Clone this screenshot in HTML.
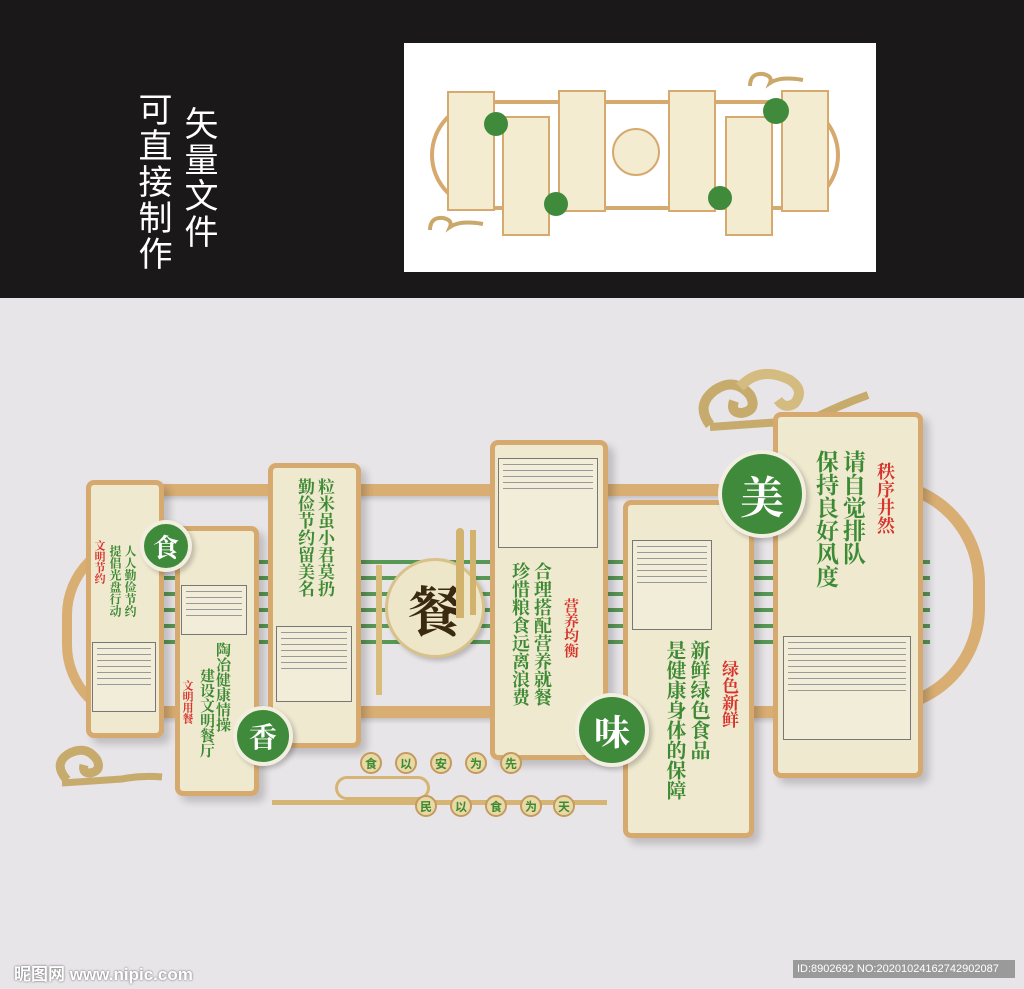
<!DOCTYPE html>
<html><head><meta charset="utf-8"><style>
*{margin:0;padding:0;box-sizing:border-box}
body{width:1024px;height:989px;position:relative;overflow:hidden;background:#e8e5e8;font-family:"Liberation Sans","Noto Sans CJK SC",sans-serif}
.a{position:absolute}
.top{left:0;top:0;width:1024px;height:298px;background:#1a1819}
.vt{writing-mode:vertical-rl;color:#fff;font-size:34px;line-height:36px;letter-spacing:2px}
.p{position:absolute;background:#efe9cf;border:5px solid #d6a96e;border-radius:8px;box-shadow:6px 6px 8px rgba(0,0,0,.18)}
.bar{position:absolute;background:#d9ae73;height:12px;box-shadow:0 3px 4px rgba(0,0,0,.15)}
.c{position:absolute;border-radius:50%;background:#3f8a3b;border:4px solid #f3efe0;color:#fff;font-family:"Noto Serif CJK SC",serif;display:flex;align-items:center;justify-content:center;font-weight:bold;box-shadow:3px 3px 5px rgba(0,0,0,.2)}
.g,.r{position:absolute;writing-mode:vertical-rl;font-weight:bold;font-family:"Noto Serif CJK SC",serif;line-height:1}
.g{color:#3d8a35}.r{color:#d7322b}
.box{position:absolute;border:1px solid #777;background:#f2edd8}
.box i{display:block;height:1px;background:#999;margin:5px 4px 0}
.s{position:absolute;width:22px;height:22px;border-radius:50%;background:#e9d9a5;border:2px solid #c49a5e;color:#3d8a35;font-size:12px;font-weight:bold;display:flex;align-items:center;justify-content:center}
</style></head><body>
<div class="a top"></div>
<div class="a vt" style="left:134px;top:92px">可直接制作</div>
<div class="a vt" style="left:180px;top:106px">矢量文件</div>
<div class="a" style="left:404px;top:43px;width:472px;height:229px;background:#fff"></div>
<div class="a" style="left:430px;top:100px;width:410px;height:110px;border:4px solid #d6a96e;border-radius:55px"></div>
<div class="a" style="left:447px;top:91px;width:48px;height:120px;background:#f3ecd0;border:2px solid #d6a96e"></div>
<div class="a" style="left:502px;top:116px;width:48px;height:120px;background:#f3ecd0;border:2px solid #d6a96e"></div>
<div class="a" style="left:558px;top:90px;width:48px;height:122px;background:#f3ecd0;border:2px solid #d6a96e"></div>
<div class="a" style="left:668px;top:90px;width:48px;height:122px;background:#f3ecd0;border:2px solid #d6a96e"></div>
<div class="a" style="left:725px;top:116px;width:48px;height:120px;background:#f3ecd0;border:2px solid #d6a96e"></div>
<div class="a" style="left:781px;top:90px;width:48px;height:122px;background:#f3ecd0;border:2px solid #d6a96e"></div>
<div class="a" style="left:612px;top:128px;width:48px;height:48px;border-radius:50%;background:#f3ecd0;border:2px solid #d6a96e"></div>
<div class="a" style="left:484px;top:112px;width:24px;height:24px;border-radius:50%;background:#3f8a3b"></div>
<div class="a" style="left:544px;top:192px;width:24px;height:24px;border-radius:50%;background:#3f8a3b"></div>
<div class="a" style="left:708px;top:186px;width:24px;height:24px;border-radius:50%;background:#3f8a3b"></div>
<div class="a" style="left:763px;top:98px;width:26px;height:26px;border-radius:50%;background:#3f8a3b"></div>
<svg class="a" style="left:745px;top:68px" width="60" height="22"><path d="M5 18 Q5 5 18 6 Q28 8 25 15 Q35 8 58 12" stroke="#c9a86a" stroke-width="4" fill="none"/></svg>
<svg class="a" style="left:425px;top:212px" width="60" height="22"><path d="M5 18 Q5 5 18 6 Q28 8 25 15 Q35 8 58 12" stroke="#c9a86a" stroke-width="4" fill="none"/></svg>

<div class="a" style="left:62px;top:535px;width:80px;height:190px;border:10px solid #d9ae73;border-right:none;border-radius:90px 0 0 90px"></div>
<div class="a" style="left:880px;top:478px;width:105px;height:235px;border:12px solid #d9ae73;border-left:none;border-radius:0 115px 115px 0"></div>
<div class="bar" style="left:150px;top:484px;width:640px"></div>
<div class="bar" style="left:150px;top:706px;width:640px"></div>
<div class="a" style="left:160px;top:560px;width:770px;height:90px;background:repeating-linear-gradient(#3f8a3b 0 4px,transparent 4px 16px);opacity:.85"></div>
<svg class="a" style="left:690px;top:365px" width="190" height="75">
<path d="M20 60 Q5 40 25 25 Q45 12 60 30 Q68 45 52 48 Q40 48 44 36" stroke="#c6ab6c" stroke-width="10" fill="none"/>
<path d="M50 22 Q70 0 100 15 Q115 25 105 38 Q95 45 88 35" stroke="#d4bb80" stroke-width="10" fill="none"/>
<path d="M20 62 L120 55 Q150 40 178 30" stroke="#c6ab6c" stroke-width="8" fill="none"/>
</svg>
<svg class="a" style="left:52px;top:735px" width="115" height="60">
<path d="M15 45 Q0 28 18 18 Q35 10 45 25 Q50 36 38 38 Q30 38 32 30" stroke="#c6ab6c" stroke-width="9" fill="none"/>
<path d="M10 48 L70 44 Q90 40 110 42" stroke="#c6ab6c" stroke-width="7" fill="none"/>
</svg>

<div class="p" style="left:86px;top:480px;width:78px;height:258px"></div>
<div class="g" style="left:124px;top:545px;font-size:12px">人人勤俭节约</div>
<div class="g" style="left:109px;top:545px;font-size:12px">提倡光盘行动</div>
<div class="r" style="left:94px;top:540px;font-size:11px">文明节约</div>
<div class="box" style="left:92px;top:642px;width:64px;height:70px"><i></i><i></i><i></i><i></i><i></i><i></i><i></i></div>

<div class="p" style="left:175px;top:526px;width:84px;height:270px"></div>
<div class="box" style="left:181px;top:585px;width:66px;height:50px"><i></i><i></i><i></i><i></i><i></i></div>
<div class="g" style="left:216px;top:642px;font-size:15px">陶冶健康情操</div>
<div class="g" style="left:200px;top:668px;font-size:15px">建设文明餐厅</div>
<div class="r" style="left:182px;top:680px;font-size:11px">文明用餐</div>

<div class="p" style="left:268px;top:463px;width:93px;height:285px"></div>
<div class="g" style="left:318px;top:478px;font-size:17px">粒米虽小君莫扔</div>
<div class="g" style="left:298px;top:478px;font-size:17px">勤俭节约留美名</div>
<div class="box" style="left:276px;top:626px;width:76px;height:76px"><i></i><i></i><i></i><i></i><i></i><i></i><i></i></div>

<div class="c" style="left:385px;top:558px;width:100px;height:100px;background:#eee6c8;border:3px solid #d9c18a;color:#3b2a12;font-size:54px">餐</div>
<div class="a" style="left:376px;top:565px;width:6px;height:130px;background:#d9bb7a"></div>
<div class="a" style="left:456px;top:528px;width:8px;height:90px;background:#d2b36d;border-radius:4px 4px 0 0"></div>
<div class="a" style="left:470px;top:530px;width:6px;height:85px;background:#d2b36d"></div>

<div class="p" style="left:490px;top:440px;width:118px;height:320px"></div>
<div class="box" style="left:498px;top:458px;width:100px;height:90px"><i></i><i></i><i></i><i></i><i></i></div>
<div class="g" style="left:534px;top:562px;font-size:18px">合理搭配营养就餐</div>
<div class="g" style="left:512px;top:562px;font-size:18px">珍惜粮食远离浪费</div>
<div class="r" style="left:564px;top:598px;font-size:15px">营养均衡</div>

<div class="p" style="left:623px;top:500px;width:131px;height:338px"></div>
<div class="box" style="left:632px;top:540px;width:80px;height:90px"><i></i><i></i><i></i><i></i><i></i><i></i><i></i></div>
<div class="g" style="left:690px;top:640px;font-size:20px">新鲜绿色食品</div>
<div class="g" style="left:666px;top:640px;font-size:20px">是健康身体的保障</div>
<div class="r" style="left:722px;top:660px;font-size:17px">绿色新鲜</div>

<div class="p" style="left:773px;top:412px;width:150px;height:366px"></div>
<div class="g" style="left:843px;top:450px;font-size:23px">请自觉排队</div>
<div class="g" style="left:816px;top:450px;font-size:23px">保持良好风度</div>
<div class="r" style="left:877px;top:462px;font-size:18px">秩序井然</div>
<div class="box" style="left:783px;top:636px;width:128px;height:104px"><i></i><i></i><i></i><i></i><i></i><i></i><i></i><i></i><i></i></div>

<div class="c" style="left:140px;top:520px;width:52px;height:52px;font-size:26px">食</div>
<div class="c" style="left:233px;top:706px;width:60px;height:60px;font-size:28px">香</div>
<div class="c" style="left:575px;top:693px;width:74px;height:74px;font-size:36px">味</div>
<div class="c" style="left:718px;top:450px;width:88px;height:88px;font-size:44px">美</div>

<div class="a" style="left:272px;top:800px;width:335px;height:5px;background:#d6b473"></div>
<div class="a" style="left:335px;top:776px;width:95px;height:24px;border:3px solid #d6b473;border-radius:12px"></div>
<div class="s" style="left:360px;top:752px">食</div><div class="s" style="left:395px;top:752px">以</div><div class="s" style="left:430px;top:752px">安</div><div class="s" style="left:465px;top:752px">为</div><div class="s" style="left:500px;top:752px">先</div>
<div class="s" style="left:415px;top:795px">民</div><div class="s" style="left:450px;top:795px">以</div><div class="s" style="left:485px;top:795px">食</div><div class="s" style="left:520px;top:795px">为</div><div class="s" style="left:553px;top:795px">天</div>

<div class="a" style="left:14px;top:960px;color:#fff;font-size:17px;font-weight:bold;text-shadow:0 0 2px #555">昵图网 www.nipic.com</div>
<div class="a" style="left:793px;top:960px;width:222px;height:18px;background:#9a9a9a;color:#fff;font-size:11px;line-height:18px;padding-left:4px">ID:8902692 NO:20201024162742902087</div>
</body></html>
